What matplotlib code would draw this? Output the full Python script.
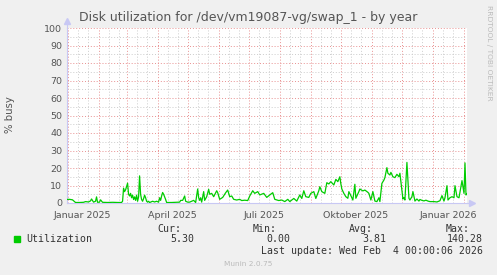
import matplotlib
matplotlib.use('Agg')
import matplotlib.pyplot as plt
import matplotlib.dates as mdates
from matplotlib.patches import Rectangle
import numpy as np

# days since 2025-01-01 (daily averages)
days = [-1, 2, 5, 6, 8, 12, 16, 18, 21, 23, 24, 26, 28, 29, 30, 32, 33, 35, 40, 45,
        50, 54, 55, 56, 57, 58, 60, 61, 62, 63, 64, 65, 66, 67, 68, 69, 70, 71, 72, 73,
        74, 75, 76, 77, 78, 79, 80, 81, 82, 83, 85, 87, 89, 91, 92, 93, 94, 95, 96, 97,
        98, 99, 104, 109, 112, 113, 115, 117, 118, 120, 122, 124, 126, 128, 130, 131, 132, 133, 134, 136,
        137, 139, 141, 142, 144, 146, 149, 150, 152, 155, 158, 160, 162, 164, 166, 169, 172, 174, 177, 180,
        182, 185, 187, 190, 192, 196, 199, 202, 205, 207, 211, 214, 217, 220, 222, 226, 229, 232, 234, 236,
        238, 241, 243, 246, 248, 251, 252, 254, 257, 259, 261, 263, 266, 268, 270, 272, 273, 274, 276, 278,
        280, 281, 283, 285, 287, 288, 291, 292, 295, 297, 300, 301, 303, 305, 307, 309, 311, 312, 314, 316,
        317, 319, 320, 322, 323, 325, 327, 329, 331, 332, 333, 335, 336, 337, 339, 341, 342, 344, 345, 347,
        349, 351, 352, 354, 356, 358, 360, 362, 366, 369, 372, 374, 376, 377, 379, 380, 382, 384, 386, 387,
        389, 391, 394, 396, 397, 398, 399]
busy = [2.0, 2.1, 1.8, 1.3, 0.3, 0.3, 0.4, 0.8, 0.6, 1.2, 2.3, 0.5, 1.0, 3.5, 0.4, 0.5, 1.8, 0.4, 0.3, 0.4,
        0.3, 0.3, 1.0, 8.5, 6.5, 7.5, 11.3, 5.0, 4.0, 5.5, 3.0, 4.5, 2.0, 3.5, 1.5, 4.5, 1.0, 3.5, 15.5, 5.0,
        2.0, 1.0, 2.5, 4.5, 3.0, 1.0, 0.5, 1.0, 0.3, 0.5, 1.0, 0.6, 1.0, 0.5, 3.0, 1.5, 4.0, 6.0, 5.0, 3.5,
        2.0, 0.3, 0.3, 0.4, 0.5, 1.5, 1.5, 4.0, 1.0, 0.5, 0.5, 1.0, 1.5, 0.3, 8.0, 3.0, 1.5, 3.0, 0.5, 6.5,
        1.5, 3.6, 7.8, 5.0, 5.5, 3.6, 7.0, 5.9, 2.1, 3.2, 5.9, 7.4, 3.6, 4.0, 2.1, 1.7, 2.1, 1.4, 1.6, 1.4,
        4.0, 7.0, 5.5, 6.5, 4.6, 5.5, 3.2, 4.6, 5.9, 2.1, 1.4, 1.7, 0.8, 2.1, 0.8, 2.6, 1.1, 4.6, 2.6, 7.0,
        3.6, 3.2, 5.5, 6.5, 2.6, 7.0, 9.3, 6.5, 5.5, 11.6, 10.9, 12.2, 10.3, 13.5, 12.2, 15.0, 11.0, 8.0, 5.5, 3.6,
        2.7, 6.5, 4.2, 1.7, 10.7, 2.7, 6.5, 8.0, 6.9, 7.4, 6.1, 5.5, 1.7, 6.5, 1.1, 0.8, 3.0, 0.8, 11.2, 13.1,
        14.5, 20.2, 17.0, 16.0, 17.5, 15.0, 14.5, 16.4, 15.0, 17.0, 12.2, 2.3, 3.0, 1.7, 23.2, 2.7, 1.7, 3.6, 6.5, 1.1,
        2.3, 1.1, 2.0, 1.5, 1.2, 1.6, 1.1, 0.8, 0.8, 0.6, 1.3, 4.2, 1.1, 3.0, 9.9, 1.7, 3.0, 3.6, 3.0, 9.9,
        3.6, 3.0, 12.8, 5.5, 22.9, 4.6, 5.3]

x_labels = ['Januar 2025', 'April 2025', 'Juli 2025', 'Oktober 2025', 'Januar 2026']
x_label_dates = ['2025-01-16', '2025-04-16', '2025-07-16', '2025-10-16', '2026-01-16']
legend_stats = ['5.30', '0.00', '3.81', '140.28']
stat_names = ['Cur:', 'Min:', 'Avg:', 'Max:']

W, H = 497, 275


def fx(x):
    return x / W


def fy(y):
    return 1 - y / H


base = np.datetime64('2025-01-01')
dates = base + np.array(days).astype('timedelta64[D]')

fig = plt.figure(figsize=(W / 100, H / 100), dpi=100, facecolor='#F0F0F0')
ax = fig.add_axes([fx(66.5), fy(203), fx(467) - fx(66.5), fy(28) - fy(203)])
ax.set_facecolor('white')

ax.plot(dates, busy, color='#00CC00', lw=0.9, zorder=3)

ax.set_xlim(np.datetime64('2024-12-31'), np.datetime64('2026-02-04'))
ax.set_ylim(0, 100)

# grid: month starts red, 11th/21st grey; y every 10 red, every 5 grey
ax.xaxis.set_major_locator(mdates.MonthLocator())
ax.xaxis.set_minor_locator(mdates.DayLocator(bymonthday=[11, 21]))
ax.yaxis.set_major_locator(plt.MultipleLocator(10))
ax.yaxis.set_minor_locator(plt.MultipleLocator(5))
ax.xaxis.set_major_formatter(plt.NullFormatter())
ax.grid(True, which='major', color='#E89090', lw=0.7, linestyle=(0, (1, 2)))
ax.grid(True, which='minor', color='#CCCCCC', lw=0.7, linestyle=(0, (1, 2)))
ax.set_axisbelow(True)
ax.tick_params(which='both', length=0, labelsize=6.8, labelcolor='#555555', pad=3)

for lab, d in zip(x_labels, x_label_dates):
    ax.text(np.datetime64(d), -0.045, lab, transform=ax.get_xaxis_transform(),
            ha='center', va='top', fontsize=6.8, color='#555555')

for side in ['top', 'right']:
    ax.spines[side].set_visible(False)
for side in ['left', 'bottom']:
    ax.spines[side].set_color('#C8C8F4')
    ax.spines[side].set_linewidth(0.8)
ax.plot([0, 0], [1, 1.04], color='#C8C8F4', lw=0.8, transform=ax.transAxes, clip_on=False)
ax.plot([1, 1.012], [0, 0], color='#C8C8F4', lw=0.8, transform=ax.transAxes, clip_on=False)
ax.plot([0], [1.04], marker='^', ms=4, color='#C8C8F4', transform=ax.transAxes, clip_on=False)
ax.plot([1.012], [0], marker='>', ms=4, color='#C8C8F4', transform=ax.transAxes, clip_on=False)

fig.text(fx(248), fy(18), 'Disk utilization for /dev/vm19087-vg/swap_1 - by year',
         ha='center', va='center', fontsize=9, color='#555555')
fig.text(fx(10), fy(115), '% busy', rotation=90, ha='center', va='center',
         fontsize=7.3, color='#555555')
fig.text(fx(489), fy(5), 'RRDTOOL / TOBI OETIKER', rotation=270, ha='center', va='top',
         fontsize=5.4, color='#BBBBBB')

# legend block
fig.patches.append(Rectangle((fx(14), fy(242)), fx(5.5), fy(236) - fy(242),
                             transform=fig.transFigure, color='#00CC00'))
mono = 'DejaVu Sans Mono'
fig.text(fx(26), fy(239.5), 'Utilization', ha='left', va='center', fontsize=7.1,
         family=mono, color='#333333')
for name, val, right in zip(stat_names, legend_stats, [194, 290, 386, 483]):
    fig.text(fx(right - 13), fy(228.5), name, ha='right', va='center', fontsize=7.1,
             family=mono, color='#333333')
    fig.text(fx(right), fy(239.5), val, ha='right', va='center', fontsize=7.1,
             family=mono, color='#333333')
fig.text(fx(483), fy(251), 'Last update: Wed Feb  4 00:00:06 2026', ha='right', va='center',
         fontsize=7.1, family=mono, color='#333333')
fig.text(fx(248), fy(264), 'Munin 2.0.75', ha='center', va='center', fontsize=5.3,
         color='#BBBBBB')

fig.savefig('out.png', dpi=100, facecolor=fig.get_facecolor())
